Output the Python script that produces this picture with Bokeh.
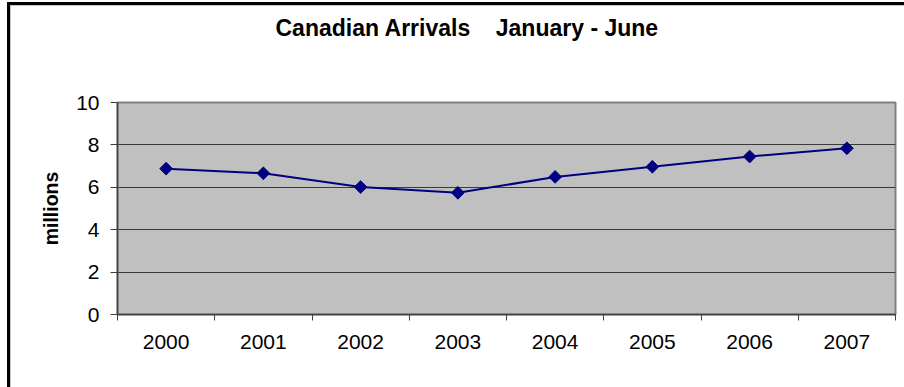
from bokeh.plotting import figure
from bokeh.models import Range1d, FixedTicker, Title, GlobalInlineStyleSheet
from bokeh.embed import file_html
from bokeh.resources import INLINE
import numpy as np
import math

title_text = "Canadian Arrivals\u00a0\u00a0\u00a0 January - June"
y_label = "millions"
years = ["2000", "2001", "2002", "2003", "2004", "2005", "2006", "2007"]
arrivals = [6.88, 6.66, 6.01, 5.74, 6.49, 6.97, 7.45, 7.84]
y_ticks = [0, 2, 4, 6, 8, 10]

FONT = "Liberation Sans"

xpos = np.arange(len(years)) + 0.5

p = figure(width=904, height=387, output_backend="svg", toolbar_location=None,
           x_range=Range1d(0, len(years)), y_range=Range1d(0, 10),
           min_border_left=117, min_border_right=9, min_border_top=102, min_border_bottom=73,
           background_fill_color="#C0C0C0", border_fill_color="white",
           outline_line_color="#808080", outline_line_width=2)

# chart-area border (left and top edges visible in the window)
p.stylesheets = [GlobalInlineStyleSheet(css=(
    "body::before{content:'';position:fixed;left:7px;top:2px;width:2000px;height:2000px;"
    "border-left:3px solid black;border-top:3px solid black;"
    "box-shadow:inset 1px 1px 0 0 #c8c8c8;pointer-events:none;z-index:10;}"))]

p.line(xpos, arrivals, line_color="#000080", line_width=2)
p.scatter(xpos, arrivals, marker="square", angle=math.pi / 4, size=9,
          fill_color="#000080", line_color="#000080")

# x axis: labels at centres, ticks at category boundaries
p.xaxis.ticker = FixedTicker(ticks=list(xpos), minor_ticks=list(range(len(years) + 1)))
p.xaxis.major_label_overrides = {float(x): y for x, y in zip(xpos, years)}
p.xaxis.major_tick_out = 0
p.xaxis.major_tick_in = 0
p.xaxis.minor_tick_out = 6
p.xaxis.minor_tick_in = 0
p.xaxis.minor_tick_line_color = "#404040"
p.xaxis.major_label_standoff = 14

p.yaxis.ticker = FixedTicker(ticks=y_ticks)
p.yaxis.major_tick_out = 7
p.yaxis.major_tick_in = 0
p.yaxis.minor_tick_line_color = None
p.yaxis.major_label_standoff = 11
p.yaxis.major_label_text_baseline = "top"
p.yaxis.axis_label = y_label
p.yaxis.axis_label_standoff = 11
p.yaxis.axis_label_text_font = FONT
p.yaxis.axis_label_text_font_size = "19.5px"
p.yaxis.axis_label_text_font_style = "bold"
p.yaxis.axis_label_text_color = "black"

for ax in (p.xaxis, p.yaxis):
    ax.axis_line_color = "#404040"
    ax.axis_line_width = 1.5
    ax.major_tick_line_color = "#404040"
    ax.major_label_text_font = FONT
    ax.major_label_text_font_size = "21px"
    ax.major_label_text_color = "black"

p.xgrid.grid_line_color = None
p.ygrid.ticker = FixedTicker(ticks=y_ticks)
p.ygrid.grid_line_color = "#3a3a3a"
p.ygrid.grid_line_width = 1

# spacer panel between the frame and the title
p.add_layout(Title(text=" ", text_font=FONT, text_font_size="20px", standoff=38), "above")
p.add_layout(Title(text=title_text, text_font=FONT, text_font_size="23px",
                   text_font_style="bold", text_color="black",
                   align="left", offset=158, standoff=0), "above")

open("out.html", "w").write(file_html(p, INLINE))
